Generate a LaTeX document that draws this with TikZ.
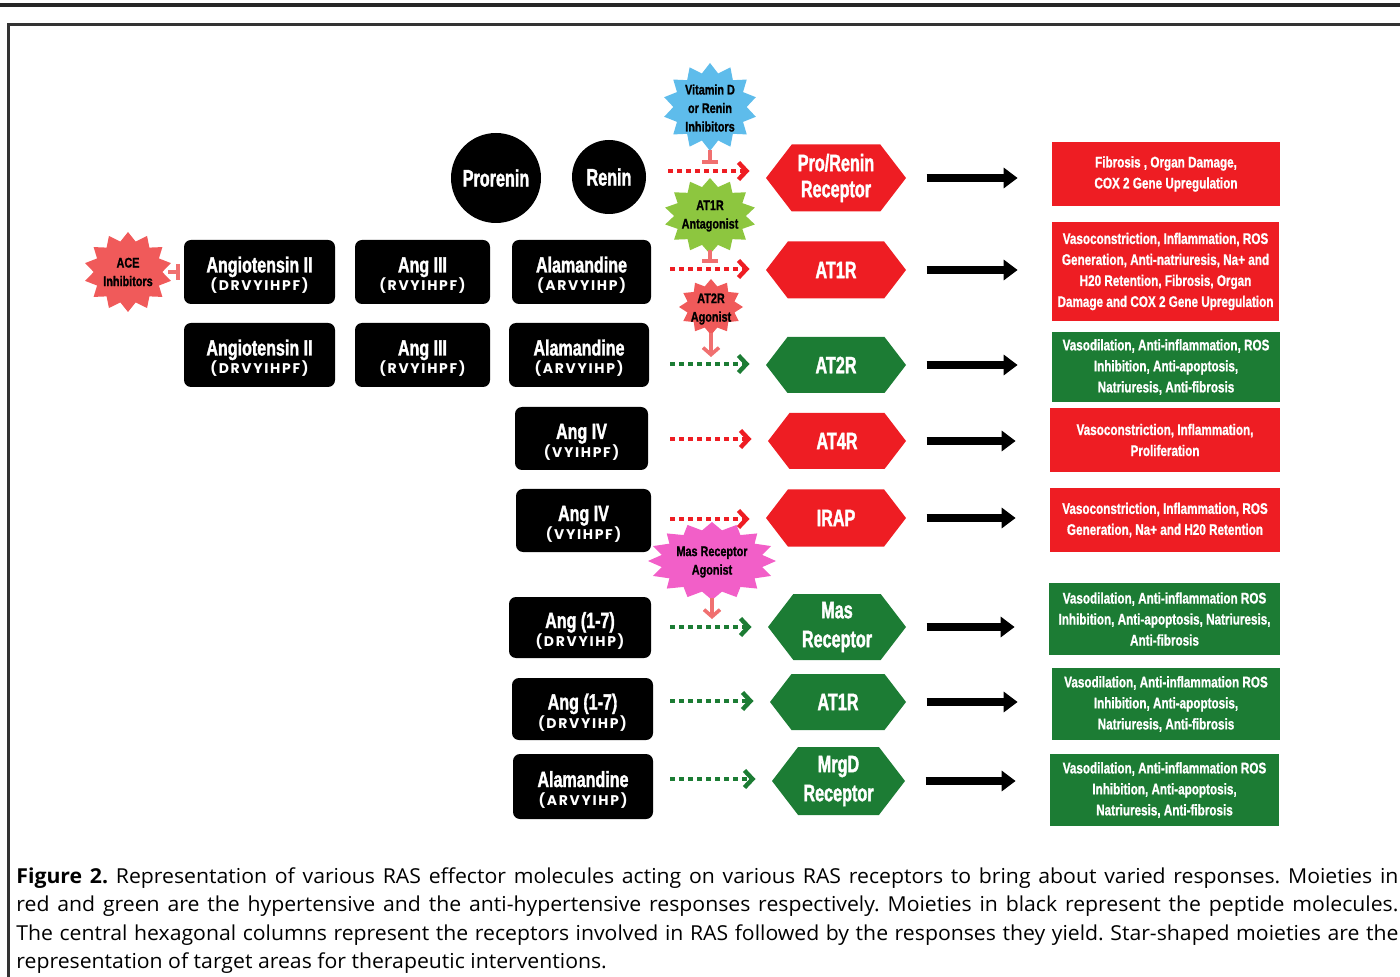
\documentclass[tikz,border=0pt]{standalone}
\usepackage{fontspec}
\setmainfont{Liberation Sans}
\newfontfamily\ttlf[FakeStretch=0.73,FakeBold=1.5]{Liberation Sans}
\newfontfamily\hexf[FakeStretch=0.68,FakeBold=1.5]{Liberation Sans}
\newfontfamily\respf[FakeStretch=0.76,FakeBold=1]{Liberation Sans}
\newfontfamily\starf[FakeStretch=0.775,FakeBold=1]{Liberation Sans}
\newfontfamily\spacedf[LetterSpace=12]{Poppins}
\newfontfamily\capf[FakeStretch=1.03]{Open Sans}
\usetikzlibrary{arrows.meta,shapes.symbols,calc}
\definecolor{rasred}{RGB}{238,29,35}
\definecolor{rasgreen}{RGB}{28,124,52}
\definecolor{starblue}{RGB}{94,188,235}
\definecolor{starlime}{RGB}{141,198,63}
\definecolor{starsalmon}{RGB}{240,90,90}
\definecolor{starpink}{RGB}{242,95,200}
\definecolor{tbarc}{RGB}{240,112,112}
% star polygon: colour, cx, cy, rx, ry, vertices, vertices+1, inner ratio
\newcommand\starfill[8]{\fill[#1] plot[samples=#7, domain=0:#6, variable=\k]
  ({#2+#4*(1-(1-#8)*mod(round(\k),2))*cos(\k*360/#6+90)},
   {#3+#5*(1-(1-#8)*mod(round(\k),2))*sin(\k*360/#6+90)}) -- cycle;}
\newcommand\pep[7]{%
  \node[pep, minimum width=#4, minimum height=#5] (#1) at (#2,#3) {};
  \node[ttl] (#1t) at ($(#1.center)+(0,0.5)$) {#6};
  \node[sub] (#1s) at ($(#1.center)+(0,19)$) {#7};}
\tikzset{
  pep/.style={fill=black, rounded corners=3.5pt, inner sep=0pt},
  ttl/.style={text=white, anchor=base, inner sep=0pt, font=\ttlf\bfseries\fontsize{11}{12}\selectfont},
  sub/.style={text=white, anchor=base, inner sep=0pt, font=\spacedf\bfseries\fontsize{7}{8}\selectfont},
  hex/.style={shape=signal, signal to=west and east, signal pointer angle=105, inner sep=0pt,
    text=white, align=center, font=\hexf\bfseries\fontsize{11.9}{13}\selectfont},
  resp/.style={inner sep=0pt, text=white, align=center, font=\respf\bfseries\fontsize{7.7}{10.5}\selectfont},
  startxt/.style={inner sep=0pt, align=center, text=black, font=\starf\bfseries\fontsize{7}{9.25}\selectfont},
  circ/.style={circle, fill=black, inner sep=0pt, text=white, font=\hexf\bfseries\fontsize{11.9}{13}\selectfont},
  dotr/.style={draw=rasred, line width=2.2pt, dash pattern=on 2.5pt off 2pt, shorten >=8pt,
    -{Straight Barb[length=4pt,width=8.5pt]}},
  dotg/.style={dotr, draw=rasgreen},
  bigarr/.style={line width=4pt, shorten <=10pt, shorten >=17pt, -{Triangle[length=7pt,width=10pt]}},
  tline/.style={draw=tbarc, line width=1.6pt, -{Bar[width=8pt,line width=2pt]}},
  sarr/.style={draw=tbarc, line width=1.8pt, -{Straight Barb[length=3.5pt,width=8pt]}},
  captxt/.style={inner sep=0pt, anchor=base west, font=\capf\fontsize{10.3}{12}\selectfont\frenchspacing}
}
\begin{document}
\begin{tikzpicture}[x=0.5pt,y=-0.5pt]
\useasboundingbox (0,0) rectangle (1400,977);
% frame
\draw[line width=2pt, black!85] (0,5) -- (1400,5);
\draw[line width=1.5pt, black!80] (8,977) -- (8,25) -- (1400,25);

% circles
\node[circ, minimum size=45pt] (pro) at (496,178) {Prorenin};
\node[circ, minimum size=37pt] (ren) at (609,177) {Renin};

% peptide boxes
\pep{a1}{259.5}{272}{75.5pt}{32pt}{Angiotensin II}{(DRVYIHPF)}
\pep{a2}{422.5}{272}{67.5pt}{32pt}{Ang III}{(RVYIHPF)}
\pep{a3}{581.5}{272}{69.5pt}{32pt}{Alamandine}{(ARVYIHP)}
\pep{b1}{259.5}{355}{75.5pt}{32pt}{Angiotensin II}{(DRVYIHPF)}
\pep{b2}{422.5}{355}{67.5pt}{32pt}{Ang III}{(RVYIHPF)}
\pep{b3}{579}{355}{70pt}{32pt}{Alamandine}{(ARVYIHP)}
\pep{c1}{581.5}{438.5}{66.5pt}{31.5pt}{Ang IV}{(VYIHPF)}
\pep{d1}{583.5}{520.5}{67.5pt}{31.5pt}{Ang IV}{(VYIHPF)}
\pep{e1}{580}{627.5}{71pt}{30.5pt}{Ang (1-7)}{(DRVYIHP)}
\pep{f1}{582.5}{709}{70.5pt}{31pt}{Ang (1-7)}{(DRVYIHP)}
\pep{g1}{583}{786.5}{70pt}{32.5pt}{Alamandine}{(ARVYIHP)}

% stars
\starfill{starsalmon}{128}{272}{44}{40}{28}{29}{0.78}
\node[startxt] (ace) at (128,272) {ACE\\Inhibitors};
\starfill{starblue}{710}{107}{47}{44}{28}{29}{0.78}
\node[startxt] (vit) at (710,108) {Vitamin D\\or Renin\\Inhibitors};
\starfill{starlime}{710}{216}{46}{38}{28}{29}{0.78}
\node[startxt] (ant) at (710,216) {AT1R\\Antagonist};
\starfill{starsalmon}{711}{307}{32}{28}{24}{25}{0.76}
\node[startxt] (ago) at (711,309) {AT2R\\Agonist};
\starfill{starpink}{712}{561}{64}{39}{32}{33}{0.8}
\node[startxt] (mas) at (712,562) {Mas Receptor\\Agonist};

% hexagon receptors
\node[hex, fill=rasred,   minimum width=70pt, minimum height=33.5pt] (h1) at (836,178) {Pro/Renin\\Receptor};
\node[hex, fill=rasred,   minimum width=70pt, minimum height=28.5pt] (h2) at (836,270) {AT1R};
\node[hex, fill=rasgreen, minimum width=70pt, minimum height=28pt]   (h3) at (836,365) {AT2R};
\node[hex, fill=rasred,   minimum width=69pt, minimum height=28pt]   (h4) at (837,441) {AT4R};
\node[hex, fill=rasred,   minimum width=70pt, minimum height=28.5pt] (h5) at (836,518) {IRAP};
\node[hex, fill=rasgreen, minimum width=69pt, minimum height=33pt, font=\hexf\bfseries\fontsize{11.9}{14.5}\selectfont] (h6) at (837,627) {Mas\\Receptor};
\node[hex, fill=rasgreen, minimum width=68pt, minimum height=28pt]   (h7) at (838,702) {AT1R};
\node[hex, fill=rasgreen, minimum width=66.5pt, minimum height=34pt, font=\hexf\bfseries\fontsize{11.9}{14.5}\selectfont] (h8) at (838.5,781) {MrgD\\Receptor};

% responses
\node[resp, fill=rasred, minimum width=114pt, minimum height=32pt] (r1) at (1166,174)
  {Fibrosis , Organ Damage,\\COX 2 Gene Upregulation};
\node[resp, fill=rasred, minimum width=113.5pt, minimum height=49.5pt] (r2) at (1165.5,271.5)
  {Vasoconstriction, Inflammation, ROS\\Generation, Anti-natriuresis, Na+ and\\H20 Retention, Fibrosis, Organ\\Damage and COX 2 Gene Upregulation};
\node[resp, fill=rasgreen, minimum width=114pt, minimum height=35pt] (r3) at (1166,367)
  {Vasodilation, Anti-inflammation, ROS\\Inhibition, Anti-apoptosis,\\Natriuresis, Anti-fibrosis};
\node[resp, fill=rasred, minimum width=115pt, minimum height=32pt] (r4) at (1165,440)
  {Vasoconstriction, Inflammation,\\Proliferation};
\node[resp, fill=rasred, minimum width=115pt, minimum height=32pt] (r5) at (1165,520)
  {Vasoconstriction, Inflammation, ROS\\Generation, Na+ and H20 Retention};
\node[resp, fill=rasgreen, minimum width=115.5pt, minimum height=36pt] (r6) at (1164.5,619)
  {Vasodilation, Anti-inflammation ROS\\Inhibition, Anti-apoptosis, Natriuresis,\\Anti-fibrosis};
\node[resp, fill=rasgreen, minimum width=114pt, minimum height=36pt] (r7) at (1166,704)
  {Vasodilation, Anti-inflammation ROS\\Inhibition, Anti-apoptosis,\\Natriuresis, Anti-fibrosis};
\node[resp, fill=rasgreen, minimum width=114.5pt, minimum height=36pt] (r8) at (1164.5,790)
  {Vasodilation, Anti-inflammation ROS\\Inhibition, Anti-apoptosis,\\Natriuresis, Anti-fibrosis};

% dotted arrows into receptors
\coordinate (s1) at (668,171);
\coordinate (s2) at (670,269);
\coordinate (s3) at (670,364);
\coordinate (s4) at (670,439);
\coordinate (s5) at (670,519);
\coordinate (s6) at (670,627);
\coordinate (s7) at (670,701);
\coordinate (s8) at (670,779);
\draw[dotr] (s1) -- (s1 -| h1.west);
\draw[dotr] (s2) -- (s2 -| h2.west);
\draw[dotg] (s3) -- (s3 -| h3.west);
\draw[dotr] (s4) -- (s4 -| h4.west);
\draw[dotr] (s5) -- (s5 -| h5.west);
\draw[dotg] (s6) -- (s6 -| h6.west);
\draw[dotg] (s7) -- (s7 -| h7.west);
\draw[dotg] (s8) -- (s8 -| h8.west);

% black arrows to responses
\foreach \i in {1,...,8}{\draw[bigarr] (h\i.east) -- (h\i.east -| r\i.west);}

% inhibition bars and agonist arrows
\coordinate (vitb) at (710,150);
\coordinate (vitT) at (710,164);
\draw[tline] (vitb) -- (vitT);
\coordinate (antb) at (710,250);
\coordinate (antT) at (710,263);
\draw[tline] (antb) -- (antT);
\coordinate (acer) at (168,272);
\coordinate (aceT) at (180,272);
\draw[tline] (acer) -- (aceT);
\coordinate (agob) at (711,333);
\coordinate (agoT) at (711,357);
\draw[sarr] (agob) -- (agoT);
\coordinate (masb) at (712,598);
\coordinate (masT) at (712,619);
\draw[sarr] (masb) -- (masT);

% caption
\node[captxt] (cap1) at (16,883) {\makebox[691pt][s]{\textbf{Figure 2.} Representation of various RAS effector molecules acting on various RAS receptors to bring about varied responses. Moieties in}};
\node[captxt] (cap2) at (16,911.5) {\makebox[691pt][s]{red and green are the hypertensive and the anti-hypertensive responses respectively. Moieties in black represent the peptide molecules.}};
\node[captxt] (cap3) at (16,940) {\makebox[691pt][s]{The central hexagonal columns represent the receptors involved in RAS followed by the responses they yield. Star-shaped moieties are the}};
\node[captxt] (cap4) at (16,968) {representation of target areas for therapeutic interventions.};
\end{tikzpicture}
\end{document}
